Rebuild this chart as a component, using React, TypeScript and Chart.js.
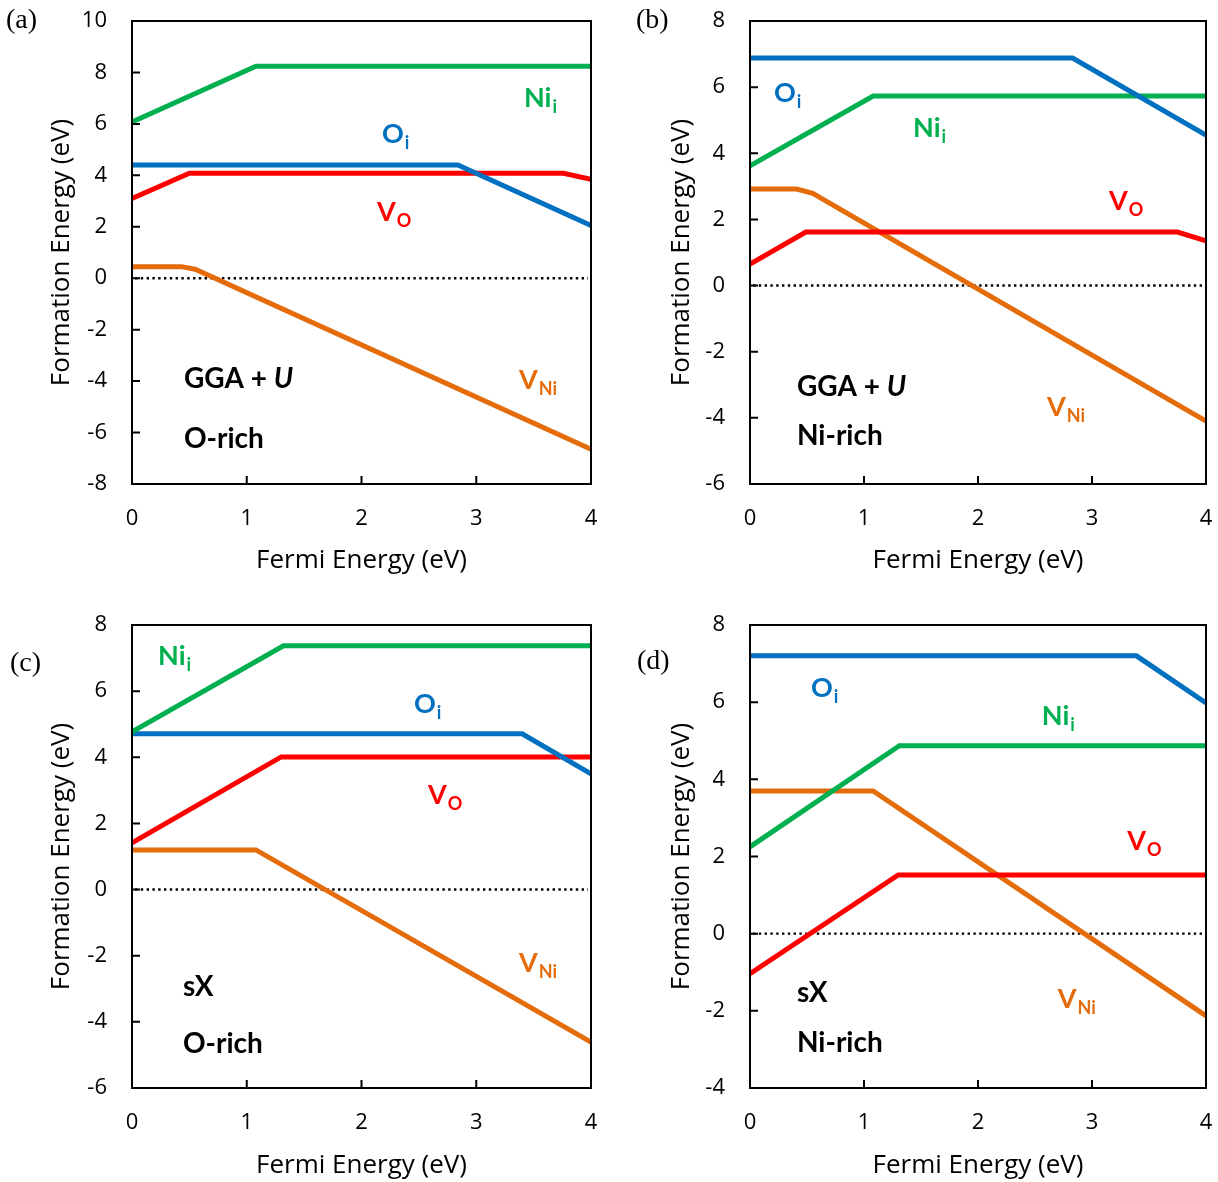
import React, { useEffect, useRef } from "react";
import { Chart, registerables } from "chart.js";

Chart.register(...registerables);

// ---------- colours ----------
const GREEN = "#00B050";
const BLUE = "#0070C0";
const RED = "#FF0000";
const ORANGE = "#E46C0A";

// ---------- shared axis values ----------
const fermiMin = 0;
const fermiMax = 4;
const fermiStep = 1;
const energyStep = 2;

// ---------- (a) GGA+U, O-rich ----------
const aNiX = [0, 1.08, 4];
const aNiY = [6.07, 8.24, 8.24];
const aOX = [0, 2.84, 4];
const aOY = [4.4, 4.4, 2.05];
const aVOX = [0, 0.5, 3.76, 4];
const aVOY = [3.1, 4.08, 4.08, 3.85];
const aVNiX = [0, 0.43, 0.55, 4];
const aVNiY = [0.45, 0.45, 0.35, -6.65];
const aRange = [-8, 10];

// ---------- (b) GGA+U, Ni-rich ----------
const bOX = [0, 2.83, 4];
const bOY = [6.88, 6.88, 4.55];
const bNiX = [0, 1.08, 4];
const bNiY = [3.62, 5.73, 5.73];
const bVOX = [0, 0.49, 3.75, 4];
const bVOY = [0.65, 1.62, 1.62, 1.35];
const bVNiX = [0, 0.41, 0.55, 4];
const bVNiY = [2.92, 2.92, 2.79, -4.1];
const bRange = [-6, 8];

// ---------- (c) sX, O-rich ----------
const cNiX = [0, 1.32, 4];
const cNiY = [4.77, 7.37, 7.37];
const cOX = [0, 3.4, 4];
const cOY = [4.71, 4.71, 3.5];
const cVOX = [0, 1.3, 4];
const cVOY = [1.41, 4.01, 4.01];
const cVNiX = [0, 1.08, 4];
const cVNiY = [1.2, 1.2, -4.61];
const cRange = [-6, 8];

// ---------- (d) sX, Ni-rich ----------
const dOX = [0, 3.39, 4];
const dOY = [7.2, 7.2, 5.98];
const dNiX = [0, 1.31, 4];
const dNiY = [2.25, 4.87, 4.87];
const dVOX = [0, 1.3, 4];
const dVOY = [-1.04, 1.52, 1.52];
const dVNiX = [0, 1.08, 4];
const dVNiY = [3.7, 3.7, -2.13];
const dRange = [-4, 8];

// ---------- styles ----------
const AXIS_FONT = '"Open Sans"';
const LABEL_FONT = "Lato";
const TICK_SIZE = 22;
const TITLE_SIZE = 26;
const LABEL_SIZE = 27;
const SUB_SIZE = 18;
const NOTE_SIZE = 28;

type Series = { xs: number[]; ys: number[]; color: string };
type Label = { main: string; sub: string; x: number; y: number; color: string };
type Seg = { text: string; italic?: boolean };
type Note = { segs: Seg[]; x: number; y: number };
type Panel = {
  key: string;
  left: number;
  top: number;
  width: number;
  height: number;
  area: { left: number; top: number; right: number; bottom: number };
  range: number[];
  series: Series[];
  labels: Label[];
  notes: Note[];
  letter: string;
  letterX: number;
  letterY: number;
  yTitlePad: number;
  xTitlePad: number;
};

const panels: Panel[] = [
  {
    key: "a",
    left: 0,
    top: 0,
    width: 609,
    height: 595,
    area: { left: 132, top: 21, right: 591, bottom: 484 },
    range: aRange,
    series: [
      { xs: aNiX, ys: aNiY, color: GREEN },
      { xs: aOX, ys: aOY, color: BLUE },
      { xs: aVOX, ys: aVOY, color: RED },
      { xs: aVNiX, ys: aVNiY, color: ORANGE },
    ],
    labels: [
      { main: "Ni", sub: "i", x: 3.416, y: 6.66, color: GREEN },
      { main: "O", sub: "i", x: 2.179, y: 5.26, color: BLUE },
      { main: "V", sub: "O", x: 2.135, y: 2.22, color: RED },
      { main: "V", sub: "Ni", x: 3.373, y: -4.31, color: ORANGE },
    ],
    notes: [
      { segs: [{ text: "GGA + " }, { text: "U", italic: true }], x: 0.453, y: -4.27 },
      { segs: [{ text: "O-rich" }], x: 0.453, y: -6.6 },
    ],
    letter: "(a)",
    letterX: 6,
    letterY: 28,
    yTitlePad: 46,
    xTitlePad: 19,
  },
  {
    key: "b",
    left: 609,
    top: 0,
    width: 609,
    height: 595,
    area: { left: 141, top: 21, right: 597, bottom: 484 },
    range: bRange,
    series: [
      { xs: bOX, ys: bOY, color: BLUE },
      { xs: bNiX, ys: bNiY, color: GREEN },
      { xs: bVOX, ys: bVOY, color: RED },
      { xs: bVNiX, ys: bVNiY, color: ORANGE },
    ],
    labels: [
      { main: "O", sub: "i", x: 0.21, y: 5.55, color: BLUE },
      { main: "Ni", sub: "i", x: 1.43, y: 4.49, color: GREEN },
      { main: "V", sub: "O", x: 3.149, y: 2.29, color: RED },
      { main: "V", sub: "Ni", x: 2.605, y: -3.94, color: ORANGE },
    ],
    notes: [
      { segs: [{ text: "GGA + " }, { text: "U", italic: true }], x: 0.412, y: -3.34 },
      { segs: [{ text: "Ni-rich" }], x: 0.412, y: -4.82 },
    ],
    letter: "(b)",
    letterX: 27,
    letterY: 28,
    yTitlePad: 57,
    xTitlePad: 19,
  },
  {
    key: "c",
    left: 0,
    top: 595,
    width: 609,
    height: 587,
    area: { left: 132, top: 30, right: 591, bottom: 493 },
    range: cRange,
    series: [
      { xs: cNiX, ys: cNiY, color: GREEN },
      { xs: cOX, ys: cOY, color: BLUE },
      { xs: cVOX, ys: cVOY, color: RED },
      { xs: cVNiX, ys: cVNiY, color: ORANGE },
    ],
    labels: [
      { main: "Ni", sub: "i", x: 0.227, y: 6.79, color: GREEN },
      { main: "O", sub: "i", x: 2.457, y: 5.34, color: BLUE },
      { main: "V", sub: "O", x: 2.58, y: 2.59, color: RED },
      { main: "V", sub: "Ni", x: 3.373, y: -2.49, color: ORANGE },
    ],
    notes: [
      { segs: [{ text: "sX" }], x: 0.444, y: -3.22 },
      { segs: [{ text: "O-rich" }], x: 0.444, y: -4.94 },
    ],
    letter: "(c)",
    letterX: 10,
    letterY: 76,
    yTitlePad: 46,
    xTitlePad: 1,
  },
  {
    key: "d",
    left: 609,
    top: 595,
    width: 609,
    height: 587,
    area: { left: 141, top: 30, right: 597, bottom: 493 },
    range: dRange,
    series: [
      { xs: dOX, ys: dOY, color: BLUE },
      { xs: dNiX, ys: dNiY, color: GREEN },
      { xs: dVOX, ys: dVOY, color: RED },
      { xs: dVNiX, ys: dVNiY, color: ORANGE },
    ],
    labels: [
      { main: "O", sub: "i", x: 0.535, y: 6.14, color: BLUE },
      { main: "Ni", sub: "i", x: 2.56, y: 5.41, color: GREEN },
      { main: "V", sub: "O", x: 3.31, y: 2.17, color: RED },
      { main: "V", sub: "Ni", x: 2.7, y: -1.93, color: ORANGE },
    ],
    notes: [
      { segs: [{ text: "sX" }], x: 0.412, y: -1.77 },
      { segs: [{ text: "Ni-rich" }], x: 0.412, y: -3.07 },
    ],
    letter: "(d)",
    letterX: 28,
    letterY: 74,
    yTitlePad: 57,
    xTitlePad: 1,
  },
];

function PanelChart({ p }: { p: Panel }) {
  const ref = useRef<HTMLCanvasElement>(null);

  useEffect(() => {
    const canvas = ref.current;
    if (!canvas) return;

    const deco = {
      id: "deco" + p.key,
      beforeDatasetsDraw(chart: any) {
        const { ctx, chartArea: a, scales } = chart;
        const y0 = scales.y.getPixelForValue(0);
        ctx.save();
        ctx.strokeStyle = "#000";
        ctx.lineWidth = 2.4;
        ctx.setLineDash([2.4, 3.4]);
        ctx.beginPath();
        ctx.moveTo(a.left + 3, y0);
        ctx.lineTo(a.right - 3, y0);
        ctx.stroke();
        ctx.restore();
      },
      afterDatasetsDraw(chart: any) {
        const { ctx, chartArea: a, scales } = chart;
        const xs = scales.x;
        const ys = scales.y;
        ctx.save();
        // frame
        ctx.strokeStyle = "#000";
        ctx.lineWidth = 2;
        ctx.setLineDash([]);
        ctx.strokeRect(a.left, a.top, a.right - a.left, a.bottom - a.top);
        // inward ticks
        ctx.beginPath();
        ys.ticks.forEach((t: any) => {
          const py = ys.getPixelForValue(t.value);
          ctx.moveTo(a.left, py);
          ctx.lineTo(a.left + 8, py);
        });
        xs.ticks.forEach((t: any) => {
          const px = xs.getPixelForValue(t.value);
          ctx.moveTo(px, a.bottom);
          ctx.lineTo(px, a.bottom - 8);
        });
        ctx.stroke();

        // series labels
        ctx.textAlign = "left";
        ctx.textBaseline = "alphabetic";
        p.labels.forEach((l) => {
          const px = xs.getPixelForValue(l.x);
          const py = ys.getPixelForValue(l.y);
          ctx.fillStyle = l.color;
          ctx.font = `bold ${LABEL_SIZE}px ${LABEL_FONT}`;
          ctx.fillText(l.main, px, py);
          const w = ctx.measureText(l.main).width;
          ctx.font = `bold ${SUB_SIZE}px ${LABEL_FONT}`;
          ctx.fillText(l.sub, px + w + 1, py + 6);
        });

        // notes
        ctx.fillStyle = "#000";
        p.notes.forEach((n) => {
          let px = xs.getPixelForValue(n.x);
          const py = ys.getPixelForValue(n.y);
          n.segs.forEach((s) => {
            ctx.font = `${s.italic ? "italic " : ""}bold ${NOTE_SIZE}px ${LABEL_FONT}`;
            ctx.fillText(s.text, px, py);
            px += ctx.measureText(s.text).width;
          });
        });

        // panel letter
        ctx.font = `28px "Liberation Serif", "Times New Roman", serif`;
        ctx.fillText(p.letter, p.letterX, p.letterY);
        ctx.restore();
      },
    };

    const datasets = p.series.map((s) => ({
      data: s.xs.map((x, i) => ({ x, y: s.ys[i] })),
      borderColor: s.color,
      backgroundColor: s.color,
      borderWidth: 5,
      pointRadius: 0,
      pointHoverRadius: 0,
      showLine: true,
      tension: 0,
      fill: false,
    }));

    const chart = new Chart(canvas, {
      type: "scatter",
      data: { datasets },
      plugins: [deco],
      options: {
        animation: false,
        responsive: false,
        devicePixelRatio: 1,
        events: [],
        layout: {
          padding: {
            left: 0,
            top: p.area.top,
            right: p.width - p.area.right,
            bottom: 0,
          },
        },
        plugins: {
          legend: { display: false },
          tooltip: { enabled: false },
        },
        scales: {
          x: {
            type: "linear",
            position: "bottom",
            min: fermiMin,
            max: fermiMax,
            grid: { display: false, drawTicks: false },
            border: { display: false },
            ticks: {
              stepSize: fermiStep,
              color: "#000",
              padding: 22,
              font: { family: AXIS_FONT, size: TICK_SIZE },
            },
            title: {
              display: true,
              text: "Fermi Energy (eV)",
              color: "#000",
              font: { family: AXIS_FONT, size: TITLE_SIZE },
              padding: { top: 0, bottom: p.xTitlePad },
            },
            afterFit: (s: any) => {
              s.height = p.height - p.area.bottom;
              s.paddingLeft = 0;
              s.paddingRight = 0;
            },
          },
          y: {
            type: "linear",
            position: "left",
            min: p.range[0],
            max: p.range[1],
            grid: { display: false, drawTicks: false },
            border: { display: false },
            ticks: {
              stepSize: energyStep,
              color: "#000",
              padding: 25,
              font: { family: AXIS_FONT, size: TICK_SIZE },
            },
            title: {
              display: true,
              text: "Formation Energy (eV)",
              color: "#000",
              font: { family: AXIS_FONT, size: TITLE_SIZE },
              padding: { top: p.yTitlePad, bottom: 0 },
            },
            afterFit: (s: any) => {
              s.width = p.area.left;
              s.paddingTop = 0;
              s.paddingBottom = 0;
            },
          },
        },
      } as any,
    });

    return () => chart.destroy();
  }, [p]);

  return (
    <canvas
      ref={ref}
      width={p.width}
      height={p.height}
      style={{
        position: "absolute",
        left: p.left,
        top: p.top,
        width: p.width,
        height: p.height,
      }}
    />
  );
}

export default function App() {
  return (
    <div
      style={{
        position: "absolute",
        left: 0,
        top: 0,
        width: 1218,
        height: 1182,
        background: "#fff",
      }}
    >
      {panels.map((p) => (
        <PanelChart key={p.key} p={p} />
      ))}
    </div>
  );
}
